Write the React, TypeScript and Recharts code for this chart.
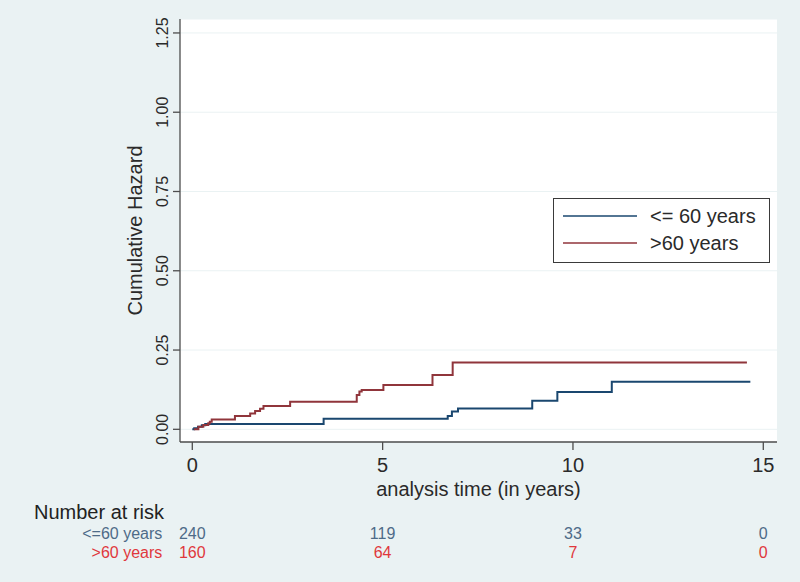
import { LineChart, Line, XAxis, YAxis, CartesianGrid, Legend } from "recharts";

// Nelson-Aalen cumulative hazard
const youngTimes = [0, 0.05, 0.15, 0.25, 0.34, 3.45, 6.71, 6.82, 6.98, 8.93, 9.59, 11.02, 14.66];
const youngHazard = [0, 0.003, 0.008, 0.0125, 0.017, 0.033, 0.042, 0.056, 0.066, 0.09, 0.118, 0.15, 0.15];
const oldTimes = [0.04, 0.16, 0.29, 0.42, 0.46, 0.51, 1.12, 1.52, 1.65, 1.78, 1.87, 2.57, 4.32, 4.39, 4.45, 5.02, 6.31, 6.84, 14.57];
const oldHazard = [0, 0.008, 0.0135, 0.019, 0.024, 0.031, 0.042, 0.05, 0.058, 0.065, 0.0735, 0.087, 0.108, 0.119, 0.124, 0.14, 0.171, 0.211, 0.211];

const timeTicks = [0, 5, 10, 15];
const hazardTicks = [0, 0.25, 0.5, 0.75, 1, 1.25];
const riskYoung = [240, 119, 33, 0];
const riskOld = [160, 64, 7, 0];

const BLUE = "#1a476f";
const RED = "#90353b";
const RISK_BLUE = "#4e6b88";
const RISK_RED = "#e0383c";
const AXIS = "#4d4d4d";
const TEXT = "#2a2a2a";

const youngData = youngTimes.map((t, i) => ({ t, h: youngHazard[i] }));
const oldData = oldTimes.map((t, i) => ({ t, h: oldHazard[i] }));

function HazardTick(props: any) {
  const { x, y, payload } = props;
  const bx = x - 5;
  return (
    <text x={bx} y={y} transform={`rotate(-90, ${bx}, ${y})`} textAnchor="middle" fontSize={16} fill={TEXT}>
      {payload.value.toFixed(2)}
    </text>
  );
}

function HazardLabel(props: any) {
  const vb = props.viewBox;
  const cx = vb.x + vb.width - 38;
  const cy = vb.y + vb.height / 2;
  return (
    <text x={cx} y={cy} transform={`rotate(-90, ${cx}, ${cy})`} textAnchor="middle" fontSize={20} fill={TEXT}>
      Cumulative Hazard
    </text>
  );
}

// time tick + the number-at-risk table underneath it
function TimeTick(props: any) {
  const { x, y, payload } = props;
  const i = timeTicks.indexOf(payload.value);
  return (
    <g>
      <text x={x} y={y + 14.5} textAnchor="middle" fontSize={20} fill={TEXT}>
        {payload.value}
      </text>
      {i === 0 && (
        <>
          <text x={34} y={y + 62} fontSize={20} fill="#222">
            Number at risk
          </text>
          <text x={x - 30} y={y + 82} textAnchor="end" fontSize={16} fill={RISK_BLUE}>
            {"<=60 years"}
          </text>
          <text x={x - 30} y={y + 101} textAnchor="end" fontSize={16} fill={RISK_RED}>
            {">60 years"}
          </text>
        </>
      )}
      <text x={x} y={y + 82} textAnchor="middle" fontSize={16} fill={RISK_BLUE}>
        {riskYoung[i]}
      </text>
      <text x={x} y={y + 101} textAnchor="middle" fontSize={16} fill={RISK_RED}>
        {riskOld[i]}
      </text>
    </g>
  );
}

function LegendBox(props: any) {
  const items = props.payload || [];
  return (
    <div style={{ width: 217, height: 65, boxSizing: "border-box", border: "1px solid #3a3a3a", background: "#fff" }}>
      <svg width={215} height={63}>
        {items.map((it: any, i: number) => (
          <g key={i}>
            <line x1={9} x2={83} y1={17 + i * 27} y2={17 + i * 27} stroke={it.color} strokeWidth={1.4} />
            <text x={96} y={24 + i * 27} fontSize={20} fill={TEXT}>
              {it.value}
            </text>
          </g>
        ))}
      </svg>
    </div>
  );
}

export default function App() {
  return (
    <div
      style={{
        position: "absolute",
        left: 0,
        top: 0,
        width: 800,
        height: 582,
        background: "#eaf2f3",
        fontFamily: "'Liberation Sans', Arial, sans-serif",
      }}
    >
      <LineChart width={800} height={582} margin={{ top: 19, right: 23, bottom: 82, left: 0 }}>
        <CartesianGrid vertical={false} stroke="#eaf2f3" fill="#ffffff" fillOpacity={1} yAxisId="h" xAxisId="t" />
        <XAxis
          xAxisId="t"
          dataKey="t"
          type="number"
          domain={[-0.323, 15.36]}
          ticks={timeTicks}
          allowDataOverflow
          height={58}
          tickSize={8}
          tickMargin={7}
          tick={<TimeTick />}
          axisLine={{ stroke: AXIS, strokeWidth: 1.3 }}
          tickLine={{ stroke: AXIS, strokeWidth: 1.3 }}
          label={{ value: "analysis time (in years)", position: "insideBottom", offset: 4, fontSize: 20, fill: TEXT }}
        />
        <YAxis
          yAxisId="h"
          type="number"
          domain={[-0.04, 1.294]}
          ticks={hazardTicks}
          allowDataOverflow
          width={180}
          tickSize={7}
          tickMargin={0}
          tick={<HazardTick />}
          axisLine={{ stroke: AXIS, strokeWidth: 1.3 }}
          tickLine={{ stroke: AXIS, strokeWidth: 1.3 }}
          label={<HazardLabel />}
        />
        <Legend
          layout="horizontal"
          verticalAlign="middle"
          align="center"
          wrapperStyle={{ left: 553, top: 198, width: 217, height: 65 }}
          content={<LegendBox />}
        />
        <Line
          xAxisId="t"
          yAxisId="h"
          data={youngData}
          dataKey="h"
          name="<= 60 years"
          type="stepAfter"
          stroke={BLUE}
          strokeWidth={2}
          dot={false}
          isAnimationActive={false}
        />
        <Line
          xAxisId="t"
          yAxisId="h"
          data={oldData}
          dataKey="h"
          name=">60 years"
          type="stepAfter"
          stroke={RED}
          strokeWidth={2}
          dot={false}
          isAnimationActive={false}
        />
      </LineChart>
    </div>
  );
}
